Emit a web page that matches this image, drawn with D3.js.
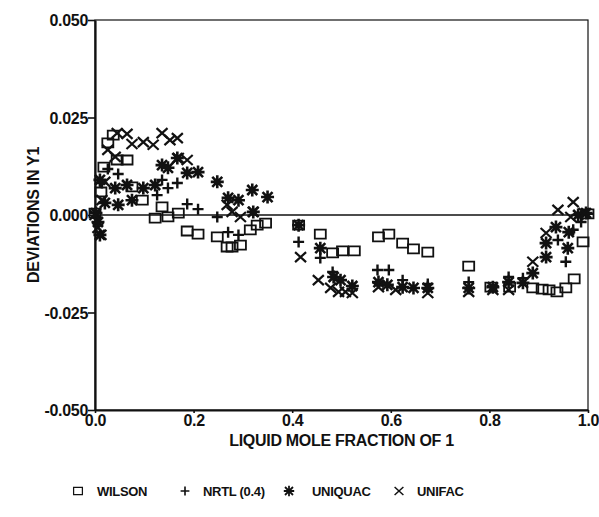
<!DOCTYPE html>
<html>
<head>
<meta charset="utf-8">
<script src="https://cdn.jsdelivr.net/npm/d3@7"></script>
<style>
  body { margin: 0; background: #fff; }
  text { font-family: "Liberation Sans", Arial, sans-serif; font-weight: bold; fill: #111; }
</style>
</head>
<body>
<svg id="chart" width="599" height="517"></svg>
<script>
// Deviations in vapour composition y1 versus liquid mole fraction x1
const wilsonX = [0, 0.012, 0.018, 0.026, 0.037, 0.045, 0.065, 0.075, 0.096, 0.122, 0.136, 0.148, 0.169, 0.187, 0.209, 0.248, 0.268, 0.278, 0.295, 0.315, 0.329, 0.346, 0.413, 0.457, 0.482, 0.502, 0.526, 0.575, 0.596, 0.624, 0.646, 0.675, 0.758, 0.803, 0.841, 0.888, 0.907, 0.921, 0.937, 0.955, 0.972, 0.990, 1.0];
const wilsonY = [0.0005, 0.0059, 0.0123, 0.0185, 0.0205, 0.0141, 0.0141, 0.0072, 0.0038, -0.0008, 0.0021, -0.0005, 0.0005, -0.0041, -0.0049, -0.0056, -0.0082, -0.0082, -0.0077, -0.0038, -0.0026, -0.0021, -0.0026, -0.0049, -0.0097, -0.0092, -0.0092, -0.0056, -0.0049, -0.0072, -0.0087, -0.0095, -0.0131, -0.0185, -0.0185, -0.0187, -0.0190, -0.0192, -0.0197, -0.0187, -0.0164, -0.0069, 0.0003];

const nrtlX = [0.002, 0.014, 0.026, 0.047, 0.126, 0.136, 0.148, 0.167, 0.187, 0.209, 0.248, 0.270, 0.291, 0.413, 0.457, 0.482, 0.573, 0.596, 0.624, 0.675, 0.758, 0.839, 0.868, 0.939, 0.955, 0.970, 0.986, 1.0];
const nrtlY = [0.0005, 0.0082, 0.0118, 0.0105, 0.0051, 0.0090, 0.0069, 0.0082, 0.0028, 0.0015, -0.0005, -0.0044, -0.0051, -0.0069, -0.0110, -0.0146, -0.0141, -0.0141, -0.0167, -0.0177, -0.0172, -0.0159, -0.0162, -0.0064, -0.0120, -0.0038, -0.0018, 0.0003];

const uniquacX = [0.002, 0.006, 0.010, 0.010, 0.020, 0.041, 0.047, 0.065, 0.075, 0.098, 0.122, 0.136, 0.148, 0.167, 0.187, 0.209, 0.248, 0.270, 0.291, 0.319, 0.321, 0.350, 0.413, 0.457, 0.484, 0.498, 0.522, 0.575, 0.593, 0.624, 0.646, 0.675, 0.758, 0.807, 0.839, 0.868, 0.888, 0.915, 0.915, 0.935, 0.959, 0.961, 0.980, 0.996];
const uniquacY = [0.0005, -0.0018, -0.0051, 0.0090, 0.0031, 0.0069, 0.0026, 0.0077, 0.0038, 0.0069, 0.0077, 0.0128, 0.0121, 0.0146, 0.0108, 0.0110, 0.0085, 0.0044, 0.0038, 0.0064, 0.0008, 0.0046, -0.0026, -0.0085, -0.0159, -0.0167, -0.0182, -0.0172, -0.0179, -0.0185, -0.0187, -0.0187, -0.0187, -0.0185, -0.0172, -0.0174, -0.0149, -0.0108, -0.0072, -0.0031, -0.0085, -0.0044, 0.0000, 0.0005];

const unifacX = [0, 0.006, 0.012, 0.014, 0.020, 0.026, 0.041, 0.045, 0.065, 0.075, 0.098, 0.118, 0.136, 0.152, 0.167, 0.169, 0.187, 0.268, 0.278, 0.295, 0.321, 0.417, 0.453, 0.478, 0.494, 0.508, 0.522, 0.575, 0.610, 0.675, 0.758, 0.807, 0.839, 0.888, 0.915, 0.939, 0.965, 0.970, 0.992];
const unifacY = [0.0000, -0.0033, -0.0051, 0.0038, 0.0085, 0.0167, 0.0149, 0.0210, 0.0208, 0.0182, 0.0187, 0.0180, 0.0210, 0.0192, 0.0197, 0.0146, 0.0141, 0.0026, 0.0008, -0.0005, 0.0008, -0.0108, -0.0167, -0.0187, -0.0197, -0.0197, -0.0200, -0.0185, -0.0192, -0.0200, -0.0197, -0.0192, -0.0192, -0.0120, -0.0046, 0.0013, -0.0005, 0.0033, 0.0005];

const xTicks = [0, 0.2, 0.4, 0.6, 0.8, 1.0];
const yTicks = [0.050, 0.025, 0.000, -0.025, -0.050];
const seriesNames = ["WILSON", "NRTL (0.4)", "UNIQUAC", "UNIFAC"];

const svg = d3.select("#chart");
const margin = { left: 95, right: 11, top: 20, bottom: 107 };
const W = 599, H = 517;
const x = d3.scaleLinear().domain([0, 1]).range([margin.left, W - margin.right]);
const y = d3.scaleLinear().domain([-0.05, 0.05]).range([H - margin.bottom, margin.top]);

// tick labels use a plain hyphen for negatives
const fmtX = d3.format(".1f");
const fmtY = v => d3.format(".3f")(v).replace("\u2212", "-");

// marker shapes
const shapes = {
  square: "M-5.5,-4.5H5.5V4.5H-5.5Z",
  plus: "M-5.5,0H5.5M0,-5.5V5.5",
  star: "M-6.5,0H6.5M0,-6.5V6.5M-5,-5L5,5M-5,5L5,-5",
  cross: "M-5.5,-5L5.5,5M-5.5,5L5.5,-5"
};
const series = [
  { name: seriesNames[0], xs: wilsonX, ys: wilsonY, shape: "square", sw: 1.8 },
  { name: seriesNames[1], xs: nrtlX, ys: nrtlY, shape: "plus", sw: 2.4 },
  { name: seriesNames[2], xs: uniquacX, ys: uniquacY, shape: "star", sw: 2.6 },
  { name: seriesNames[3], xs: unifacX, ys: unifacY, shape: "cross", sw: 2.2 }
];

// frame
const g = svg.append("g");
g.append("rect")
  .attr("x", x(0)).attr("y", y(0.05))
  .attr("width", x(1) - x(0)).attr("height", y(-0.05) - y(0.05))
  .attr("fill", "none").attr("stroke", "#111").attr("stroke-width", 1.2);

// zero line
g.append("line")
  .attr("x1", x(0)).attr("x2", x(1)).attr("y1", y(0)).attr("y2", y(0))
  .attr("stroke", "#111").attr("stroke-width", 1.6);

// axes
const xAxis = d3.axisBottom(x).tickValues(xTicks).tickFormat(fmtX).tickSize(3).tickSizeOuter(0);
const yAxis = d3.axisLeft(y).tickValues(yTicks).tickFormat(fmtY).tickSize(7).tickSizeOuter(0);

const gx = svg.append("g").attr("transform", `translate(0,${y(-0.05)})`).call(xAxis);
const gy = svg.append("g").attr("transform", `translate(${x(0)},0)`).call(yAxis);
[gx, gy].forEach(a => {
  a.select(".domain").attr("stroke", "#111").attr("stroke-width", 2.2);
  a.selectAll(".tick line").attr("stroke", "#111").attr("stroke-width", 1.6);
  a.selectAll("text").style("font-family", "Liberation Sans, Arial, sans-serif")
    .style("font-weight", "bold").style("font-size", "16px").attr("fill", "#111")
    .style("letter-spacing", "-0.3px");
});
gx.selectAll("text").attr("y", 5).attr("dy", "0.71em");
gy.selectAll("text").attr("x", -7).attr("dy", "0.36em");

// axis titles
svg.append("text")
  .attr("x", (x(0) + x(1)) / 2).attr("y", 446)
  .attr("text-anchor", "middle").style("font-size", "16px")
  .style("letter-spacing", "-0.3px")
  .text("LIQUID MOLE FRACTION OF 1");
svg.append("text")
  .attr("transform", `translate(39,${y(0)}) rotate(-90)`)
  .attr("text-anchor", "middle").style("font-size", "16px")
  .style("letter-spacing", "-0.3px")
  .text("DEVIATIONS IN Y1");

// data markers
series.forEach(s => {
  svg.append("g").selectAll("path")
    .data(s.xs.map((v, i) => [v, s.ys[i]]))
    .join("path")
    .attr("transform", d => `translate(${x(d[0])},${y(d[1])})`)
    .attr("d", shapes[s.shape])
    .attr("fill", "none").attr("stroke", "#111")
    .attr("stroke-width", s.sw);
});

// legend
const legendX = [78, 185, 289, 399];
const legendTextX = [97, 203, 312, 417];
const ly = 496;
series.forEach((s, i) => {
  svg.append("path")
    .attr("transform", `translate(${legendX[i]},${ly - 5}) scale(0.8)`)
    .attr("d", shapes[s.shape])
    .attr("fill", "none").attr("stroke", "#111").attr("stroke-width", s.sw * 0.85);
  svg.append("text")
    .attr("x", legendTextX[i]).attr("y", ly)
    .style("font-size", "13px")
    .style("letter-spacing", "-0.3px")
    .text(s.name);
});
</script>
</body>
</html>
